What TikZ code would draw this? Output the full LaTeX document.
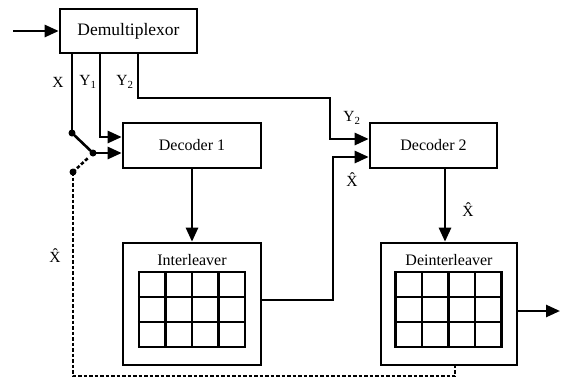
\documentclass[tikz,border=0pt]{standalone}
\usepackage{fontspec}
\setmainfont{Liberation Serif}
\usetikzlibrary{arrows.meta}
\tikzset{
  x=1pt, y=-1pt,
  ln/.style={line width=2.6pt},
  arr/.style={ln, -{Triangle[length=14pt,width=12pt]}},
  fb/.style={line width=2.6pt, dash pattern=on 3.5pt off 2pt},
  blk/.style={draw, line width=2.6pt, rectangle, inner sep=0pt, font=\fontsize{16}{19}\selectfont},
  dot/.style={circle, fill, inner sep=0pt, minimum size=7pt},
  lbl/.style={font=\fontsize{15.5}{18}\selectfont, inner sep=0pt},
}
\newcommand{\cellgrid}[2]{%
  \foreach \i in {0,...,4} {\draw[ln] ({#1-53+26.5*\i},{#2-37.5}) -- ({#1-53+26.5*\i},{#2+37.5});}
  \foreach \j in {0,...,3} {\draw[ln] ({#1-54.2},{#2-37.5+25*\j}) -- ({#1+54.2},{#2-37.5+25*\j});}
}
\begin{document}
\begin{tikzpicture}
\useasboundingbox (0,0) rectangle (562,378);
% blocks
\node[blk, minimum width=137pt, minimum height=44pt, font=\fontsize{17.5}{20}\selectfont] (demux) at (128.5,31) {Demultiplexor};
\node[blk, minimum width=138pt, minimum height=45pt] (dec1) at (192,145.5) {Decoder 1};
\node[blk, minimum width=127pt, minimum height=45pt] (dec2) at (433.5,145.5) {Decoder 2};
\node[blk, minimum width=138pt, minimum height=122pt, text depth=100pt, text height=22pt] (inter) at (192,304) {Interleaver};
\node[blk, minimum width=136pt, minimum height=122pt, text depth=100pt, text height=22pt] (deint) at (449,304) {Deinterleaver};
\cellgrid{192}{309.5}
\cellgrid{448.5}{309.5}
% coordinates
\coordinate (in) at (13,31);
\coordinate (y1c) at (100,137);
\coordinate (y2a) at (138,98);
\coordinate (y2b) at (330,139);
\coordinate (xb) at (333,157);
\coordinate (d2x) at (445,0);
\coordinate (out) at (560,311);
\coordinate (fbl) at (73,376);
\coordinate (fbr) at (455,0);
\coordinate (swe) at (88,158);
% switch dots
\node[dot] (s1) at (72,133) {};
\node[dot] (s2) at (93,153) {};
\node[dot] (s3) at (73,172) {};
% connectors
\draw[arr] (in) -- (demux.west);
\draw[ln] (demux.south -| s1) -- (s1.center);
\draw[ln] (s1.center) -- (s2.center);
\draw[arr] (s2.center) -- (dec1.west |- s2);
\draw[arr] (demux.south -| y1c) -- (y1c) -- (dec1.west |- y1c);
\draw[arr] (demux.south -| y2a) -- (y2a) -| (y2b) -- (dec2.west |- y2b);
\draw[arr] (inter.east |- 0,300) -| (xb) -- (dec2.west |- xb);
\draw[arr] (dec1.south) -- (inter.north);
\draw[arr] (dec2.south -| d2x) -- (deint.north -| d2x);
\draw[arr] (deint.east |- out) -- (out);
\draw[fb] (s3.center) -- (swe);
\draw[fb] (s3.center) -- (fbl) -| (deint.south -| fbr);
% labels
\node[lbl] (lx) at (58,82) {X};
\node[lbl] (ly1) at (88,82) {Y\textsubscript{1}};
\node[lbl] (ly2) at (125,82) {Y\textsubscript{2}};
\node[lbl] (ly2b) at (352,118) {Y\textsubscript{2}};
\node[lbl] (lxh1) at (352,180) {\^{X}};
\node[lbl] (lxh2) at (468,210) {\^{X}};
\node[lbl] (lxh3) at (55,256) {\^{X}};
\end{tikzpicture}
\end{document}
